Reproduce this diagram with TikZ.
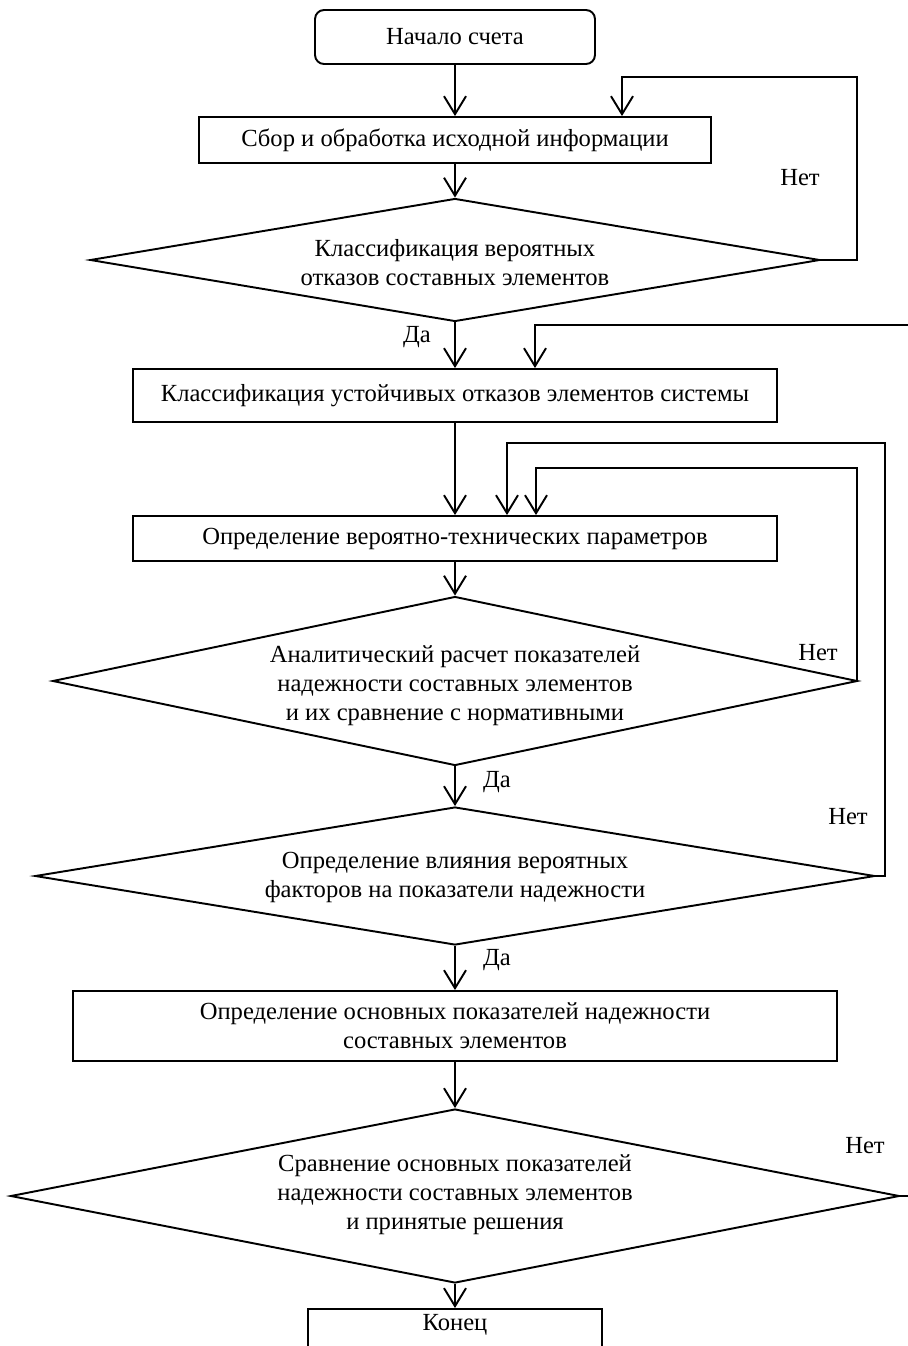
\documentclass[tikz,border=0pt]{standalone}
\usepackage{fontspec}
\setmainfont{Liberation Serif}
\usepackage{tikz}
\usetikzlibrary{%
    arrows.meta,%
    shapes.geometric%
}

\begin{document}
\begin{tikzpicture}[
        x=0.02cm, y=-0.02cm,
        media/.style={font={\fontsize{14}{16.5}\selectfont}},
        block/.style={draw, black, line width=1.1pt, rectangle, inner sep=0pt,
            media, align=center},
        decision/.style={draw, black, line width=1.1pt, diamond, inner sep=0pt},
        flow/.style={black, line width=1.1pt,
            -{Straight Barb[length=0.36cm, width=0.44cm]}},
        ]
        \useasboundingbox (0, 0) rectangle (908, 1346);
        \clip (0, 0) rectangle (908, 1346);

        % Start and first steps
        \node[block, rounded corners=0.18cm, minimum width=5.6cm, minimum height=1.08cm]
            (start) at (455, 37) {Начало счета};
        \node[block, minimum width=10.26cm, minimum height=0.92cm]
            (collect) at (455, 140) {Сбор и обработка исходной информации};
        \node[decision, minimum width=14.6cm, minimum height=2.46cm] (check1) at (455, 260) {};
        \node[media, align=center] (check1text) at (455, 263)
            {Классификация вероятных\\отказов составных элементов};

        % Boxes in the middle
        \node[block, minimum width=12.9cm, minimum height=1.06cm]
            (classif) at (455, 395.5) {Классификация устойчивых отказов элементов системы};
        \node[block, minimum width=12.9cm, minimum height=0.9cm]
            (params) at (455, 538.5) {Определение вероятно-технических параметров};

        % Checks
        \node[decision, minimum width=16.1cm, minimum height=3.38cm] (check2) at (455, 681) {};
        \node[media, align=center] (check2text) at (455, 686)
            {Аналитический расчет показателей\\надежности составных элементов\\и их сравнение с нормативными};
        \node[decision, minimum width=16.8cm, minimum height=2.76cm] (check3) at (455, 876) {};
        \node[media, align=center] (check3text) at (455, 877)
            {Определение влияния вероятных\\факторов на показатели надежности};

        % Last steps
        \node[block, minimum width=15.28cm, minimum height=1.4cm]
            (define) at (455, 1026) {Определение основных показателей надежности\\составных элементов};
        \node[decision, minimum width=17.78cm, minimum height=3.48cm] (check4) at (455, 1196) {};
        \node[media, align=center] (check4text) at (455, 1195)
            {Сравнение основных показателей\\надежности составных элементов\\и принятые решения};
        \node[block, anchor=north, minimum width=5.88cm, minimum height=1.2cm]
            (finish) at (455, 1308) {};
        \node[media] (finishtext) at (455, 1325) {Конец};

        % Corners of the loops
        \coordinate (loop1) at (857, 77);
        \coordinate (in1) at (622, 0);
        \coordinate (loop2) at (857, 468);
        \coordinate (in2) at (536, 0);
        \coordinate (loop3) at (885, 443);
        \coordinate (in3) at (507, 0);
        \coordinate (loop4) at (940, 325);
        \coordinate (in4) at (535, 0);

        % Main line
        \draw[flow] (start) -- (collect);
        \draw[flow] (collect) -- (check1);
        \draw[flow] (check1) -- (classif);
        \draw[flow] (classif) -- (params);
        \draw[flow] (params) -- (check2);
        \draw[flow] (check2) -- (check3);
        \draw[flow] (check3) -- (define);
        \draw[flow] (define) -- (check4);
        \draw[flow] (check4) -- (finish);

        % Loops back
        \draw[flow] (check1.east) -| (loop1) -| (collect.north -| in1);
        \draw[flow] (check2.east) -| (loop2) -| (params.north -| in2);
        \draw[flow] (check3.east) -| (loop3) -| (params.north -| in3);
        \draw[flow] (check4.east) -| (loop4) -| (classif.north -| in4);

        % Answers
        \node[media] (yes1) at (417, 337) {Да};
        \node[media] (no1) at (800, 178) {Нет};
        \node[media] (no2) at (818, 653) {Нет};
        \node[media] (yes2) at (497, 782) {Да};
        \node[media] (no3) at (848, 817) {Нет};
        \node[media] (yes3) at (497, 960) {Да};
        \node[media] (no4) at (865, 1146) {Нет};
\end{tikzpicture}
\end{document}
